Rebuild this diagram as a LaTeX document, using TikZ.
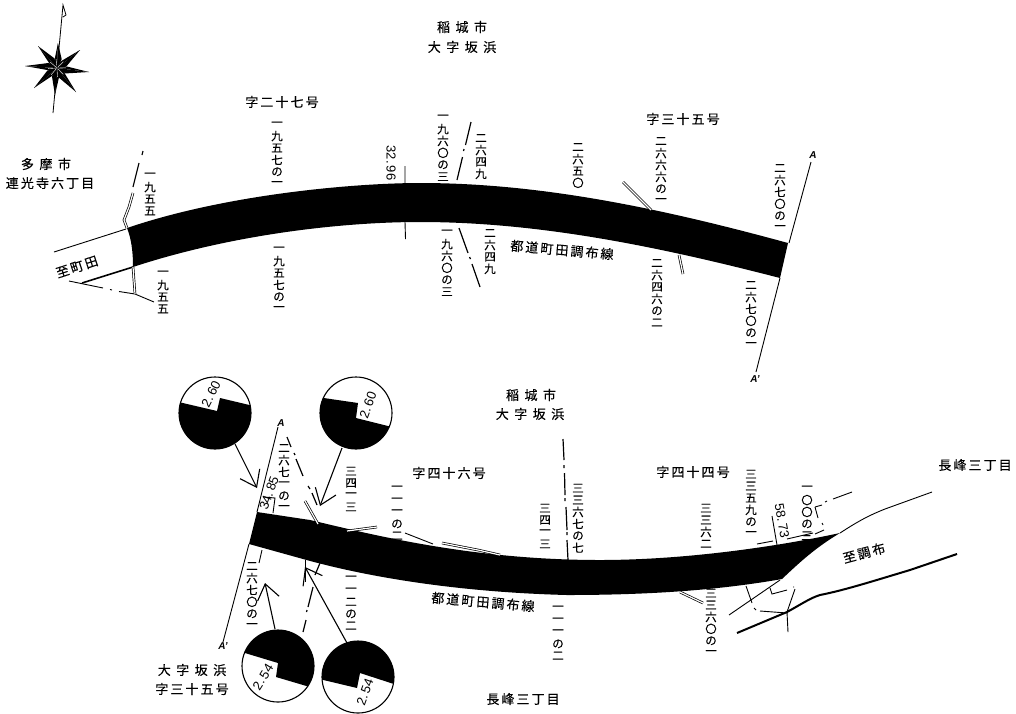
\documentclass[tikz,border=0pt]{standalone}
\usepackage{fontspec}
\setmainfont{Liberation Sans}
\newfontfamily\jpfont[LetterSpace=16,FakeBold=.25]{Noto Sans CJK JP}
\newfontfamily\lotfont[FakeBold=.35]{Noto Sans CJK JP}
\usetikzlibrary{arrows.meta}
\newcommand{\tatechar}[1]{\nointerlineskip\vbox to 11.9pt{\vss\hbox to 12pt{\hss#1\hss}\vss}}
\newcommand{\tateloop}[1]{\ifx#1\relax\else\tatechar{#1}\expandafter\tateloop\fi}
\newcommand{\tate}[1]{\vbox{\hsize=12pt\tateloop#1\relax}}
\newcommand{\gap}{\hspace{5.5pt}}
\tikzset{
  place/.style={font=\jpfont\fontsize{13}{14}\selectfont,inner sep=0pt,align=center},
  lotno/.style={font=\lotfont\fontsize{11.5}{11.5}\selectfont,inner sep=0pt,anchor=north,yshift=5pt},
  width/.style={font=\fontsize{13}{13}\selectfont,inner sep=0pt},
  endmark/.style={font=\fontsize{10}{10}\selectfont\bfseries\itshape,inner sep=0pt},
  thinline/.style={line width=.9pt},
  chain/.style={line width=1.2pt},
  wall/.style={double,double distance=1.2pt,line width=.7pt},
  lookat/.style={line width=1.1pt,-{Straight Barb[length=15pt,width=22pt,line width=1.1pt]}},
  detail/.style={line width=1.1pt}
}
\begin{document}
\begin{tikzpicture}[x=1pt,y=-1pt]
  \useasboundingbox (0,0) rectangle (1016,713);

  % compass
  \foreach \tipx/\tipy/\ang in {58/43/-88,80/50/-38,89/72/7,76/92/52,55/95/94,34/88/139,25/66/184,38/46/229}{
    \fill (\tipx,\tipy) -- ([shift={(57,68)}]\ang+26:10) -- (57,68) -- cycle;
    \fill (\tipx,\tipy) -- ([shift={(57,68)}]\ang-26:7) -- (57,68) -- cycle;
    \draw[white,line width=.4pt] (57,68) -- ++(\ang-8:9);
  }
  \draw[line width=.8pt] (53,113) -- (63,5) -- (66,15) -- (63,17);

  % upper road
  \fill (127,228) .. controls (230,193) and (360,183) .. (420,183)
    .. controls (540,183) and (660,208) .. (788,243) -- (780,278)
    .. controls (660,247) and (540,222) .. (420,222)
    .. controls (340,222) and (230,235) .. (133,267)
    .. controls (133,250) and (131,238) .. (127,228) -- cycle;

  \draw[thinline] (54,252) -- (126,229);
  \draw[line width=1.6pt] (82,283) -- (133,267);
  \draw[thinline] (69,281) -- (103,288) (110,289.5) -- (112,290) (119,291.5) -- (135,294) -- (154,302);
  \draw[wall] (133,267) -- (135,294);
  \draw[wall] (127,228) -- (124,220) -- (129,207) -- (133,193);
  \draw[chain] (133,187) -- (139,163) (142,155) -- (143,151);
  \draw[thinline] (405,166) -- (405,183) (405,222) -- (405.5,239);
  \draw[chain] (457,180) -- (462.5,157) (463.5,151) -- (464,149) (465.5,145) -- (471,122);
  \draw[chain] (459,228) -- (468,253) (469.5,257) -- (470.5,259) (472,264) -- (480,287);
  \draw[wall] (623,182) -- (651,210);
  \draw[wall] (679,255) -- (683,274);
  \draw[thinline] (811,162) -- (789,243) (780,278) -- (756,372);

  % upper labels
  \node[place] (cityA) at (462,27) {稲\gap 城\gap 市};
  \node[place] (azaA) at (462,47) {大\gap 字\gap 坂\gap 浜};
  \node[place] (tamaA) at (46,164) {多\gap 摩\gap 市};
  \node[place] (tamaB) at (50,183) {連光寺六丁目};
  \node[place] (ku27) at (282,102) {字二十七号};
  \node[place] (ku35) at (683,119) {字三十五号};
  \node[place,rotate=-5] (roadA) at (562,250) {都道町田調布線};
  \node[place,rotate=18] (toMachida) at (77,267) {至町田};
  \node[endmark] (endA) at (813,155) {A};
  \node[endmark] (endB) at (755,379) {A'};
  \node[width,rotate=-90] (wA) at (391,163) {32.\,96};

  \node[lotno] (a1) at (150,174) {\tate{一九五五}};
  \node[lotno] (a2) at (277,123) {\tate{一九五七の一}};
  \node[lotno] (a3) at (163,272) {\tate{一九五五}};
  \node[lotno] (a4) at (279,248) {\tate{一九五七の一}};
  \node[lotno] (a5) at (443,116) {\tate{一九六〇の三}};
  \node[lotno] (a6) at (481,137) {\tate{二六四九}};
  \node[lotno] (a7) at (447,231) {\tate{一九六〇の三}};
  \node[lotno] (a8) at (490,232) {\tate{二六四九}};
  \node[lotno] (a9) at (578,146) {\tate{二六五〇}};
  \node[lotno] (a10) at (661,140) {\tate{二六六六の一}};
  \node[lotno] (a11) at (780,167) {\tate{二六七〇の一}};
  \node[lotno] (a12) at (657,262) {\tate{二六四六の二}};
  \node[lotno] (a13) at (751,284) {\tate{二六七〇の一}};

  % lower road
  \fill (257,512) -- (310,520) .. controls (370,534) and (470,560) .. (600,560)
    .. controls (680,560) and (770,548) .. (840,533)
    .. controls (815,548) and (800,562) .. (782,579)
    .. controls (720,590) and (650,595) .. (567,595)
    .. controls (450,592) and (360,575) .. (303,559) -- (249,544) -- cycle;

  \draw[thinline] (278,427) -- (257,512) (249,544) -- (223,642);
  \draw[thinline] (264,497) -- (275,498) -- (273,513);
  \draw[thinline] (262,550) -- (259,563);
  \draw[chain] (287,437) -- (291,447) (294,453) -- (295,455) (296,459) -- (303,476)
    (308,486) -- (310,489) (312,493) -- (317,505);
  \draw[wall] (305,501) -- (318,524);
  \draw[wall] (347,531) -- (377,527);
  \draw[thinline] (405,533) -- (433,544);
  \draw[wall] (442,543) -- (478,550) -- (500,555);
  \draw[chain] (563,439) -- (564,460) (564,465) -- (564,468) (564.5,473) -- (565,495)
    (565,498) -- (565,501) (566,507) -- (567,530) (567,532) -- (567,535) (567,540) -- (568,560);
  \draw[thinline] (305,560) -- (305,582);
  \draw[chain] (320,563) -- (315,575) (313,587) -- (308,607) (307,610) -- (306.5,612) (306,620) -- (303,632);
  \draw[wall] (680,592) -- (703,603);

  % end of the road, east side
  \draw[thinline] (772,516) -- (777,545);
  \draw[thinline] (757,544) -- (773,541) (787,539) -- (813,533) (815,534) -- (824,530);
  \draw[thinline] (822,523) -- (823,525) (815,507) -- (818,518) (815,507) -- (822,505);
  \draw[thinline] (825,502) -- (827,501) (833,499) -- (852,492);
  \draw[thinline] (840,533) .. controls (860,520) and (870,515) .. (885,509) -- (932,492);
  \draw[line width=2pt] (737,633) -- (787,612) .. controls (800,605) and (810,598) .. (820,595)
    .. controls (845,590) and (870,582) .. (910,570) -- (957,554);
  \draw[thinline] (729,615) -- (780,580);
  \draw[thinline] (746,586) -- (752,603) (754,608) -- (756,610) (760,611) -- (787,613);
  \draw[thinline] (793,587) -- (794,587) (795,589) -- (787,612) -- (788,632);
  \draw[thinline] (770,588) -- (772,594) -- (787,590);

  % lower labels
  \node[place] (cityB) at (531,395) {稲\gap 城\gap 市};
  \node[place] (azaB) at (530,414) {大\gap 字\gap 坂\gap 浜};
  \node[place] (ku46) at (449,473) {字四十六号};
  \node[place] (ku44) at (693,472) {字四十四号};
  \node[place] (nagaA) at (975,465) {長峰三丁目};
  \node[place] (nagaB) at (523,699) {長峰三丁目};
  \node[place] (azaC) at (192,670) {大\gap 字\gap 坂\gap 浜};
  \node[place] (ku35b) at (192,689) {字三十五号};
  \node[place,rotate=-5] (roadB) at (483,602) {都道町田調布線};
  \node[place,rotate=15] (toChofu) at (864,553) {至調布};
  \node[endmark] (endC) at (281,423) {A};
  \node[endmark] (endD) at (223,646) {A'};
  \node[width,rotate=70] (wB) at (269,493) {34.\,85};
  \node[width,rotate=-80] (wC) at (782,521) {58.\,73};

  \node[lotno] (b1) at (284,447) {\tate{二六七一の一}};
  \node[lotno] (b2) at (351,470) {\tate{三四一三}};
  \node[lotno] (b3) at (397,487) {\tate{一一一の二}};
  \node[lotno] (b4) at (351,577) {\tate{一一二の二}};
  \node[lotno] (b5) at (252,565) {\tate{二六七〇の一}};
  \node[lotno] (b6) at (545,507) {\tate{三四一三}};
  \node[lotno] (b7) at (578,487) {\tate{三三六七の七}};
  \node[lotno] (b8) at (558,607) {\tate{一一一の二}};
  \node[lotno] (b9) at (706,507) {\tate{三三六二}};
  \node[lotno] (b10) at (711,592) {\tate{三三六〇の一}};
  \node[lotno] (b11) at (751,473) {\tate{三三五九の一}};
  \node[lotno] (b12) at (807,487) {\tate{一〇〇の三}};

  % details of the road width
  \begin{scope}
    \clip (215,413) circle(36);
    \fill (170,400) -- (217,411) -- (220,398) -- (262,408) -- (262,460) -- (170,460) -- cycle;
  \end{scope}
  \draw[detail] (215,413) circle(36);
  \node[width,rotate=63] (dA) at (211,394) {2.\,60};
  \begin{scope}
    \clip (356,413) circle(36);
    \fill (310,396) -- (358,403) -- (356,418) -- (400,429) -- (400,460) -- (310,460) -- cycle;
  \end{scope}
  \draw[detail] (356,413) circle(36);
  \node[width,rotate=70] (dB) at (368,405) {2.\,60};
  \begin{scope}
    \clip (278,666) circle(36);
    \fill (235,650) -- (278,663) -- (276,677) -- (320,690) -- (320,620) -- (235,620) -- cycle;
  \end{scope}
  \draw[detail] (278,666) circle(36);
  \node[width,rotate=58] (dC) at (263,677) {2.\,54};
  \begin{scope}
    \clip (358,677) circle(36);
    \fill (315,678) -- (357,688) -- (360,673) -- (400,686) -- (400,630) -- (315,630) -- cycle;
  \end{scope}
  \draw[detail] (358,677) circle(36);
  \node[width,rotate=70] (dD) at (365,692) {2.\,54};

  \draw[lookat] (235,444) -- (257,488);
  \draw[lookat] (342,448) -- (320,506);
  \draw[lookat] (275,629) -- (265,583);
  \draw[lookat] (347,643) -- (305,567);
\end{tikzpicture}
\end{document}
